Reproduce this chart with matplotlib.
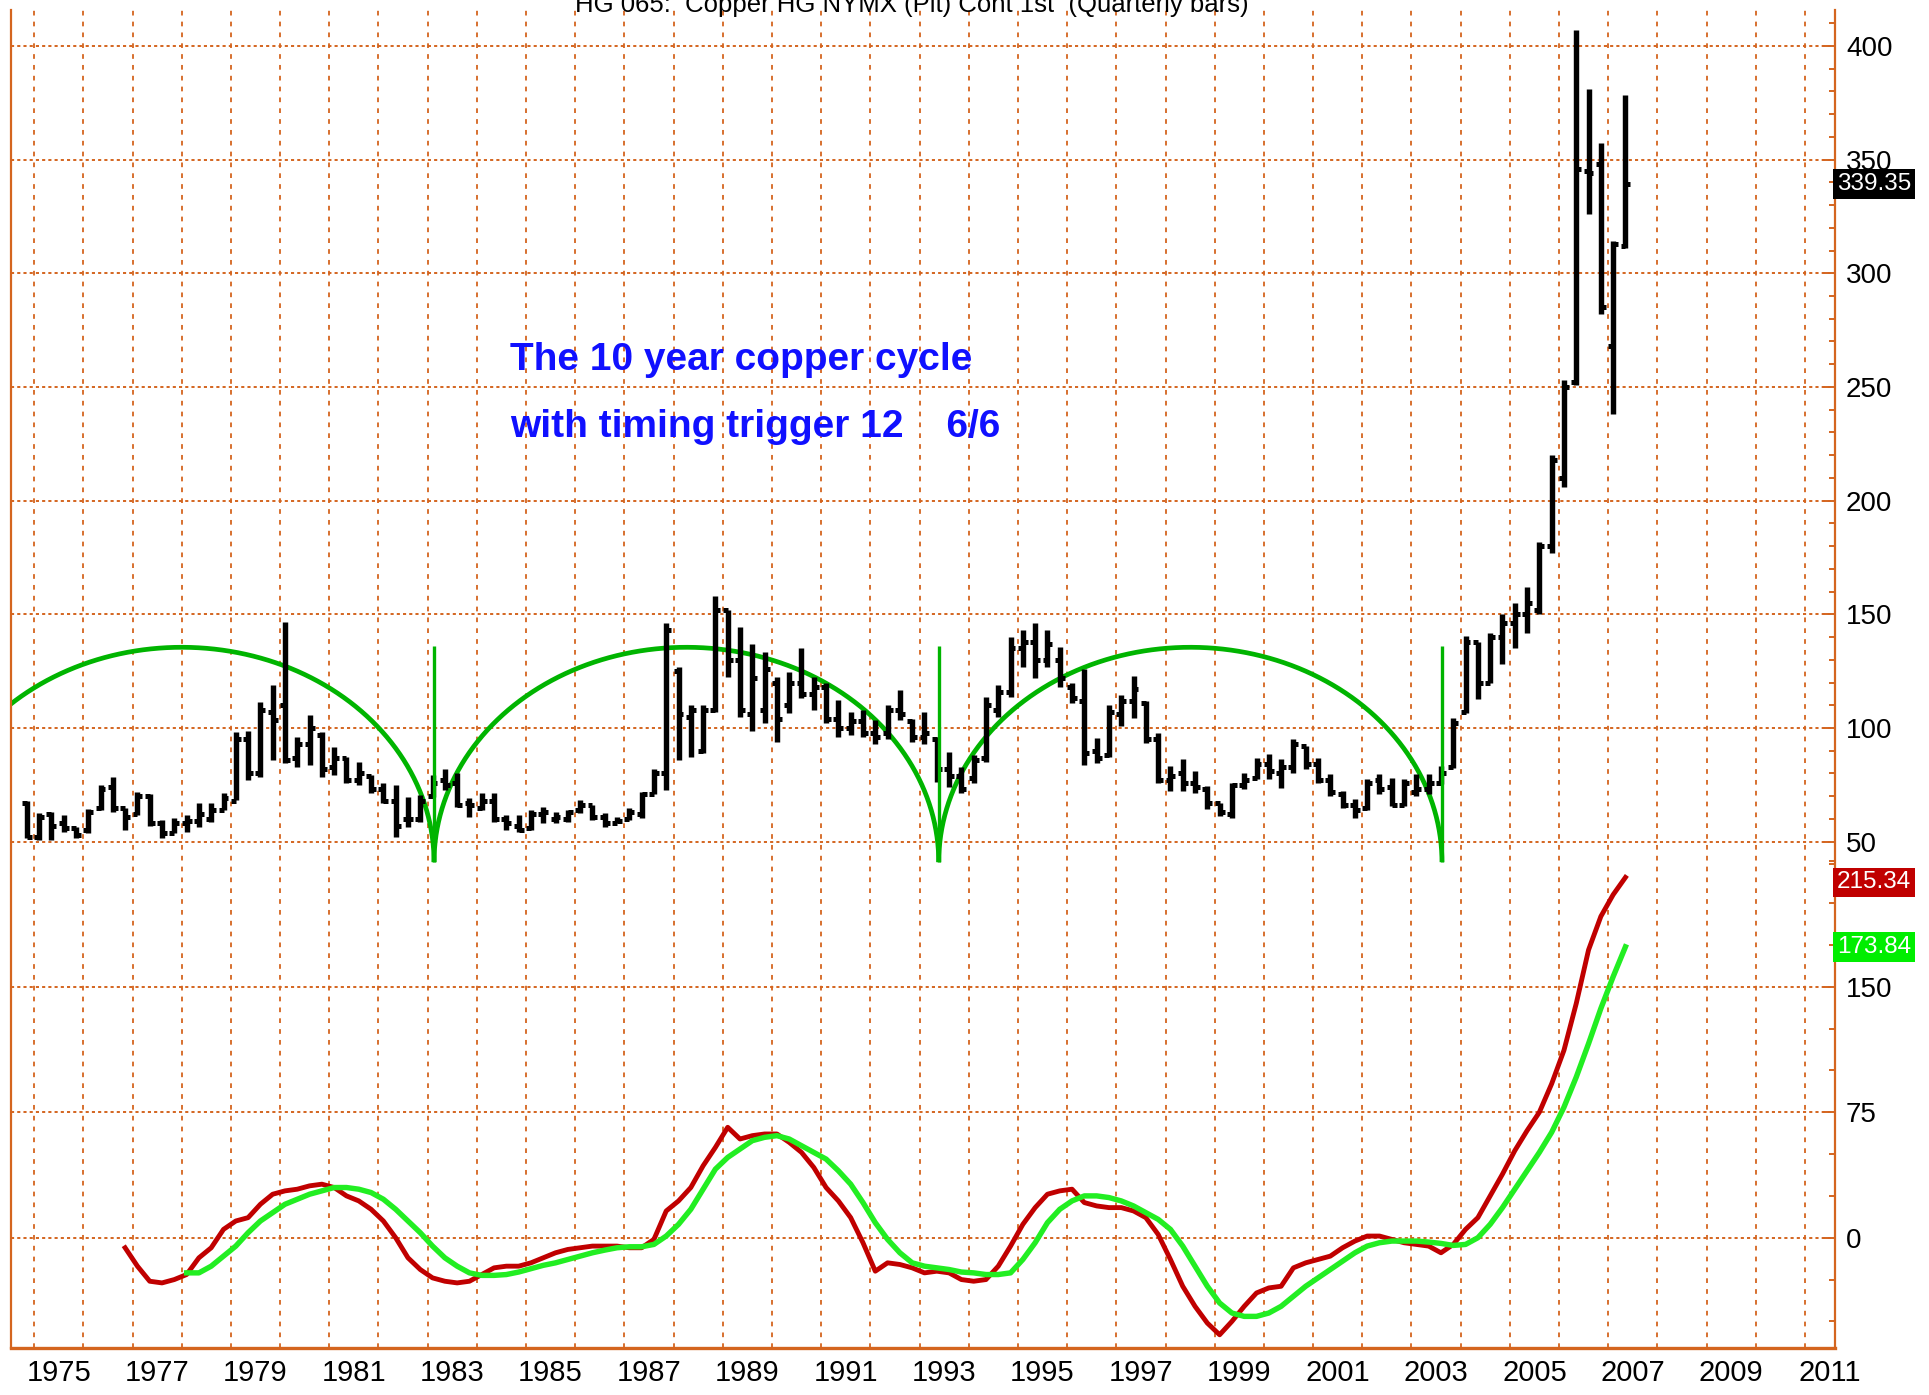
import numpy as np
import pandas as pd
import matplotlib
matplotlib.use("Agg")
import matplotlib.pyplot as plt
from matplotlib.ticker import FixedLocator, NullFormatter
from matplotlib.transforms import blended_transform_factory

# quarterly bars: HG copper, 1974Q4 .. 2007Q2
quarters = pd.period_range("1974Q4", "2007Q2", freq="Q")
opens = [67, 52, 62, 58, 56, 55, 65, 74, 65, 62, 70, 58, 54, 58, 59, 60, 64, 68, 95, 80,
         107, 110, 87, 93, 97, 83, 87, 77, 79, 73, 68, 60, 60, 70, 77, 76, 67, 65, 68, 60,
         57, 56, 62, 60, 60, 64, 66, 61, 58, 60, 62, 71, 80, 125, 105, 90, 108, 152, 130, 106,
         108, 120, 110, 120, 115, 118, 104, 100, 103, 98, 98, 108, 103, 96, 95, 82, 79, 78, 87, 108,
         116, 135, 138, 130, 130, 118, 112, 90, 88, 106, 112, 111, 95, 77, 80, 76, 73, 67, 62, 75,
         78, 84, 80, 83, 92, 84, 77, 71, 66, 65, 77, 74, 66, 72, 73, 76, 83, 107, 138, 120,
         140, 146, 150, 152, 180, 210, 252, 345, 348, 268, 312]
highs = [68, 62.5, 63, 61.7, 56.6, 64.2, 75, 78.3, 65, 72, 71, 59.5, 60.5, 61.7, 66.9, 66.9, 71.3, 98.4, 98.8, 111.6,
         119, 146.8, 96, 105.7, 98.4, 91.8, 87.4, 85, 79.3, 75.7, 74.9, 69.8, 70.5, 79.3, 81.8, 80, 69, 71.3, 71.3, 61.7,
         61.7, 64, 65.4, 63, 64, 68.3, 66, 62.5, 61, 64.7, 72, 82, 146, 127, 110, 110, 158, 152, 144.6, 137,
         133.6, 122.6, 124.8, 135, 122.6, 119.6, 112.3, 107.2, 108, 103.5, 110, 116.7, 104, 107.2, 96, 89.6, 83, 88, 113.8, 119,
         140, 143, 146, 143, 135.8, 119.6, 126, 95.5, 110, 114.5, 122.9, 111.9, 98, 83.3, 86.2, 81, 74.5, 67.2, 76, 80.4,
         87, 88.4, 86.2, 95, 92, 87, 79.6, 72.3, 68.6, 77.4, 79.6, 78.2, 77.4, 79.6, 79.6, 83.3, 104.5, 140.5, 138, 142,
         150, 155, 162, 182, 220, 253, 407, 381, 357.5, 314, 378.5]
lows = [51.5, 50.7, 50.7, 54.4, 51.5, 53.7, 64, 63.2, 55, 61.7, 56.9, 51.5, 53.7, 54.4, 56.6, 58.8, 63.9, 68.3, 77, 78.3,
        86, 84.5, 83, 83.7, 78.6, 79.3, 75.7, 75, 71.3, 66.9, 52.2, 56.6, 58.8, 69.8, 72.7, 65.4, 61, 64, 58.8, 55,
        54.4, 55, 58, 58, 58.8, 62.5, 59.5, 56.6, 58, 59.5, 60.3, 71, 72.7, 86, 87.4, 89, 107, 122.6, 105, 98.5,
        102, 94, 106.5, 113, 108, 102, 96, 97, 96, 93, 95, 103.5, 94, 93, 76.4, 74.2, 71.3, 76, 85.2, 105,
        113.8, 127, 121.8, 127, 118, 111, 83.7, 84.5, 87.4, 101, 104.5, 93.5, 76, 72.3, 72.3, 71.6, 64.2, 61.3, 60.6, 73,
        77.4, 77.4, 73.8, 80.4, 81.8, 76, 70, 65, 60.6, 64, 70.8, 65.7, 65.7, 70, 70.8, 75.2, 82.6, 106.7, 112.6, 120,
        128, 135, 142, 150, 177, 206, 251, 326, 282, 238, 311]
closes = [52, 61, 57, 56, 53, 63, 73, 65, 61, 70, 58, 54, 58, 59, 62, 64, 69, 95, 80, 108,
          103.5, 86, 93, 100, 82, 87, 77, 80, 73, 68, 57, 60, 68, 76, 75, 66, 66, 68, 60, 58,
          55, 62, 63, 61, 63, 66, 61, 58, 59, 63, 71, 80, 143, 106, 108, 108, 152, 130, 108, 122,
          126, 104, 120, 115, 118, 104, 100, 103, 98, 96, 108, 106, 96, 98, 82, 79, 73, 86, 110, 116,
          135, 138, 130, 137, 122, 113, 89, 87, 107, 112, 117, 95, 77, 79, 76, 74, 67, 63, 75, 77,
          84, 81, 83, 93, 84, 77, 72, 66, 64, 76, 73, 66, 76, 73, 76, 80, 102, 138, 120, 140,
          146, 150, 155, 180, 218, 250, 346, 344, 285, 313, 339.35]

# oscillators (lower pane)
red_start = "1976Q4"
red_vals = [-6, -17, -26, -27, -25, -22, -12, -6, 5, 10, 12, 20, 26, 28, 29, 31, 32, 30, 25, 22,
            17, 10, 0, -12, -19, -24, -26, -27, -26, -22, -18, -17, -17, -15, -12, -9, -7, -6, -5, -5,
            -5, -6, -6, -1, 16, 22, 30, 43, 54, 66, 59, 61, 62, 62, 57, 51, 42, 30, 22, 12,
            -3, -20, -15, -16, -18, -21, -20, -21, -25, -26, -25, -17, -5, 8, 18, 26, 28, 29, 21, 19,
            18, 18, 16, 12, 2, -13, -29, -41, -51, -58, -50, -41, -33, -30, -29, -18, -15, -13, -11, -6,
            -2, 1, 1, -1, -3, -4, -5, -9, -4, 5, 12, 25, 38, 52, 64, 75, 92, 112, 140, 172,
            192, 205, 215.34]
green_start = "1978Q1"
green_vals = [-21, -21, -17, -11, -5, 3, 10, 15, 20, 23, 26, 28, 30, 30, 29, 27, 23, 17, 10, 3,
              -5, -12, -17, -21, -22.5, -22.5, -22, -20.5, -18.5, -16.5, -15, -13, -11, -9, -7.4, -6, -5.4, -5.4, -4, 1,
              8, 17, 29, 41, 48, 53, 58, 60, 61, 59, 55, 51, 47, 40, 32, 21, 9, -1, -9, -15,
              -17, -18, -19, -20.5, -21, -22, -22, -21, -13, -3, 9, 17, 22, 25, 25, 24, 22, 19, 15, 11,
              5, -5, -17, -29, -39, -45, -47, -47, -45, -41, -35, -29, -24, -19, -14, -9, -5, -3, -2, -2,
              -2, -2.6, -3.4, -4.6, -4, 0, 8, 18, 29, 40, 51, 63, 78, 96, 116, 137, 156, 173.84]

# 10 year cycle lows and arc levels
cycle_lows = [1972.87, 1983.13, 1993.39, 2003.62]
arc_base = 41
arc_top = 135.5

year_labels = list(range(1975, 2012, 2))
upper_ticks = [50, 100, 150, 200, 250, 300, 350, 400]
lower_ticks = [0, 75, 150]

grid_c = "#d4651f"
fam = ["Liberation Sans Narrow", "Liberation Sans", "DejaVu Sans"]


def qx(periods):
    # bar date -> decimal year
    return periods.year + (periods.quarter - 1) / 4 + 0.1


bar_x = np.asarray(qx(quarters), dtype=float)
red_x = np.asarray(qx(pd.period_range(red_start, "2007Q2", freq="Q")), dtype=float)
green_x = np.asarray(qx(pd.period_range(green_start, "2007Q2", freq="Q")), dtype=float)

fig = plt.figure(figsize=(19.29, 13.95), dpi=100)
rect = [11 / 1929, 1 - 1348 / 1395, 1824 / 1929, 1338 / 1395]
ax = fig.add_axes(rect)
ax2 = fig.add_axes(rect, sharex=ax)
ax2.patch.set_alpha(0)

ax.set_xlim(1974.53, 2011.61)
ax.set_ylim(-172.7, 415.8)
ax2.set_ylim(-65.9, 733.7)

# cycle arcs
t = np.linspace(0, np.pi, 400)
for a, b in zip(cycle_lows[:-1], cycle_lows[1:]):
    c, half = (a + b) / 2, (b - a) / 2
    ax.plot(c - half * np.cos(t), arc_base + (arc_top - arc_base) * np.sin(t),
            color="#00b400", lw=3.4, zorder=2, solid_capstyle="butt")
ax.vlines(cycle_lows[1:], arc_base, arc_top + 0.5, color="#00b400", lw=2.4, zorder=4)

# OHLC bars
tick = 0.1
ax.vlines(bar_x, lows, highs, color="black", lw=3.9, zorder=3)
ax.hlines(opens, bar_x - tick, bar_x, color="black", lw=3.6, zorder=3)
ax.hlines(closes, bar_x, bar_x + tick, color="black", lw=3.6, zorder=3)

# oscillators
ax2.plot(red_x, red_vals, color="#c00000", lw=3.5, zorder=3)
ax2.plot(green_x, green_vals, color="#22ee22", lw=3.9, zorder=4)

# grids and ticks
for a in (ax, ax2):
    a.yaxis.tick_right()
    a.tick_params(axis="y", which="both", direction="in", colors=grid_c,
                  labelcolor="black", labelsize=20, pad=8)
    a.tick_params(axis="y", which="major", length=9, width=1.4)
    a.tick_params(axis="y", which="minor", length=4.5, width=1.4)

ax.yaxis.set_major_locator(FixedLocator(upper_ticks))
ax.yaxis.set_minor_locator(FixedLocator(np.arange(40, 411, 10)))
ax2.yaxis.set_major_locator(FixedLocator(lower_ticks))
ax2.yaxis.set_minor_locator(FixedLocator(np.arange(-50, 226, 25)))
for a in (ax, ax2):
    a.grid(True, axis="y", which="major", color=grid_c, lw=1.4, ls=(0, (1.6, 1.6)))
    for lab in a.get_yticklabels():
        lab.set_family(fam)

ax.set_xticks(np.array(year_labels) + 0.5)
ax.set_xticklabels([str(y) for y in year_labels], family=fam, fontsize=21)
ax.xaxis.set_minor_locator(FixedLocator(np.arange(1975, 2012)))
ax.xaxis.set_minor_formatter(NullFormatter())
ax.tick_params(axis="x", which="both", length=0, pad=8)
ax.grid(True, axis="x", which="minor", color=grid_c, lw=1.3, ls=(0, (2.6, 3.4)))
ax2.tick_params(axis="x", which="both", length=0, labelbottom=False)

for s in ["left", "bottom", "right"]:
    ax.spines[s].set_color(grid_c)
    ax.spines[s].set_linewidth(1.6)
ax.spines["bottom"].set_linewidth(2.4)
ax.spines["top"].set_visible(False)
for s in ax2.spines.values():
    s.set_visible(False)

# last value boxes
tr1 = blended_transform_factory(ax.transAxes, ax.transData)
tr2 = blended_transform_factory(ax2.transAxes, ax2.transData)
box = dict(boxstyle="square,pad=0.16", ec="none")
ax.text(1.001, closes[-1], "339.35", transform=tr1, ha="left", va="center", fontsize=17.5,
        family=fam, color="white", bbox=dict(box, fc="black"), zorder=10, clip_on=False)
ax2.text(1.001, red_vals[-1] - 3, "215.34", transform=tr2, ha="left", va="center", fontsize=17.5,
         family=fam, color="white", bbox=dict(box, fc="#c00000"), zorder=10, clip_on=False)
ax2.text(1.001, green_vals[-1], "173.84", transform=tr2, ha="left", va="center", fontsize=17.5,
         family=fam, color="white", bbox=dict(box, fc="#00ee00"), zorder=10, clip_on=False)

# annotation
ax.text(1984.67, 262, "The 10 year copper cycle", color="#1010ff", fontsize=28,
        fontweight="bold", family=fam, ha="left", va="center")
ax.text(1984.67, 232.5, "with timing trigger 12    6/6", color="#1010ff", fontsize=28,
        fontweight="bold", family=fam, ha="left", va="center")

fig.text(912 / 1929, 1 - 12 / 1395, "HG 065:  Copper HG NYMX (Pit) Cont 1st  (Quarterly bars)",
         ha="center", va="baseline", fontsize=18.5, family=fam)

fig.savefig("out.png", dpi=100)
